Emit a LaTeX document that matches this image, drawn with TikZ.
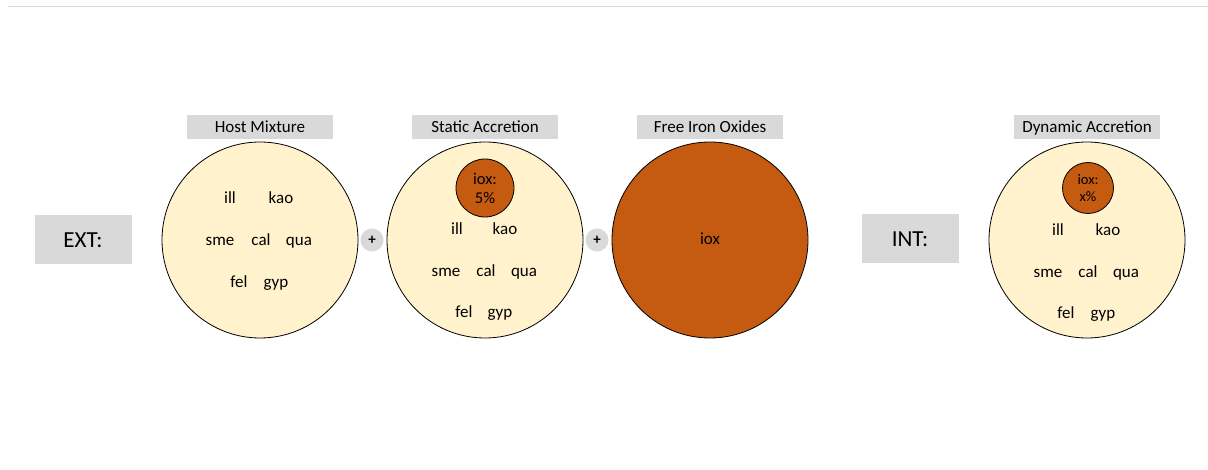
\documentclass[tikz,border=0pt]{standalone}
\usepackage{fontspec}
\setmainfont{Carlito}
\definecolor{cream}{HTML}{FFF2CC}
\definecolor{rust}{HTML}{C55A11}
\definecolor{boxgray}{HTML}{D9D9D9}
\begin{document}
\begin{tikzpicture}[x=1pt,y=-1pt,
  grain/.style={inner sep=0pt,font=\fontsize{17}{18}\selectfont,text height=10.5pt,text depth=0pt},
  bowl/.style={circle,draw=black,line width=0.8pt,fill=cream,minimum size=196pt,inner sep=0pt},
  tag/.style={fill=boxgray,minimum width=146pt,minimum height=24pt,inner sep=0pt,font=\fontsize{17}{18}\selectfont,text height=10.8pt,text depth=0pt},
  side/.style={fill=boxgray,minimum width=97pt,minimum height=49pt,inner sep=0pt,font=\fontsize{23}{26}\selectfont,text height=14.8pt,text depth=0pt},
  addsign/.style={circle,fill=boxgray,minimum size=23pt,inner sep=0pt,font=\fontsize{15}{15}\bfseries},
  speck/.style={circle,draw=black,line width=0.8pt,fill=rust,inner sep=0pt,align=center}]

\useasboundingbox (0,0) rectangle (1208,470);
\draw[boxgray,line width=1pt] (8,7)--(1208,7);

% exterior side
\node[side] (ext) at (83,240) {EXT:};

\node[tag] (host-tag) at (260,127) {Host Mixture};
\node[bowl] (host) at (260,240) {};
\begin{scope}[shift={(260,240)}]
\node[grain] (host-ill) at (-30,-42) {ill};
\node[grain] (host-kao) at (21,-42) {kao};
\node[grain] (host-sme) at (-40,0) {sme};
\node[grain] (host-cal) at (1,0) {cal};
\node[grain] (host-qua) at (39,0) {qua};
\node[grain] (host-fel) at (-21,42) {fel};
\node[grain] (host-gyp) at (16,42) {gyp};
\end{scope}

\node[addsign] (plus-a) at (372,240) {+};

\node[tag] (static-tag) at (485,127) {Static Accretion};
\node[bowl] (static) at (485,240) {};
\node[speck,minimum size=58pt,font=\fontsize{16.5}{19}\selectfont] (static-iox) at (485,188) {iox:\\5\%};
\begin{scope}[shift={(485,240)}]
\node[grain] (static-ill) at (-28,-11) {ill};
\node[grain] (static-kao) at (20,-11) {kao};
\node[grain] (static-sme) at (-39,31) {sme};
\node[grain] (static-cal) at (1,31) {cal};
\node[grain] (static-qua) at (39,31) {qua};
\node[grain] (static-fel) at (-21,72) {fel};
\node[grain] (static-gyp) at (15,72) {gyp};
\end{scope}

\node[addsign] (plus-b) at (597,240) {+};

\node[tag] (free-tag) at (710,127) {Free Iron Oxides};
\node[bowl,fill=rust,font=\fontsize{17}{18}\selectfont,text height=10pt,text depth=0pt] (free) at (710,240) {iox};

% interior side
\node[side] (int) at (910,239) {INT:};

\node[tag] (dyn-tag) at (1087,127) {Dynamic Accretion};
\node[bowl] (dyn) at (1087,240) {};
\node[speck,minimum size=51pt,font=\fontsize{14.5}{17}\selectfont] (dyn-iox) at (1088,188) {iox:\\x\%};
\begin{scope}[shift={(1087,240)}]
\node[grain] (dyn-ill) at (-29,-10) {ill};
\node[grain] (dyn-kao) at (21,-10) {kao};
\node[grain] (dyn-sme) at (-39,32) {sme};
\node[grain] (dyn-cal) at (1,32) {cal};
\node[grain] (dyn-qua) at (39,32) {qua};
\node[grain] (dyn-fel) at (-21,73) {fel};
\node[grain] (dyn-gyp) at (16,73) {gyp};
\end{scope}

\end{tikzpicture}
\end{document}
